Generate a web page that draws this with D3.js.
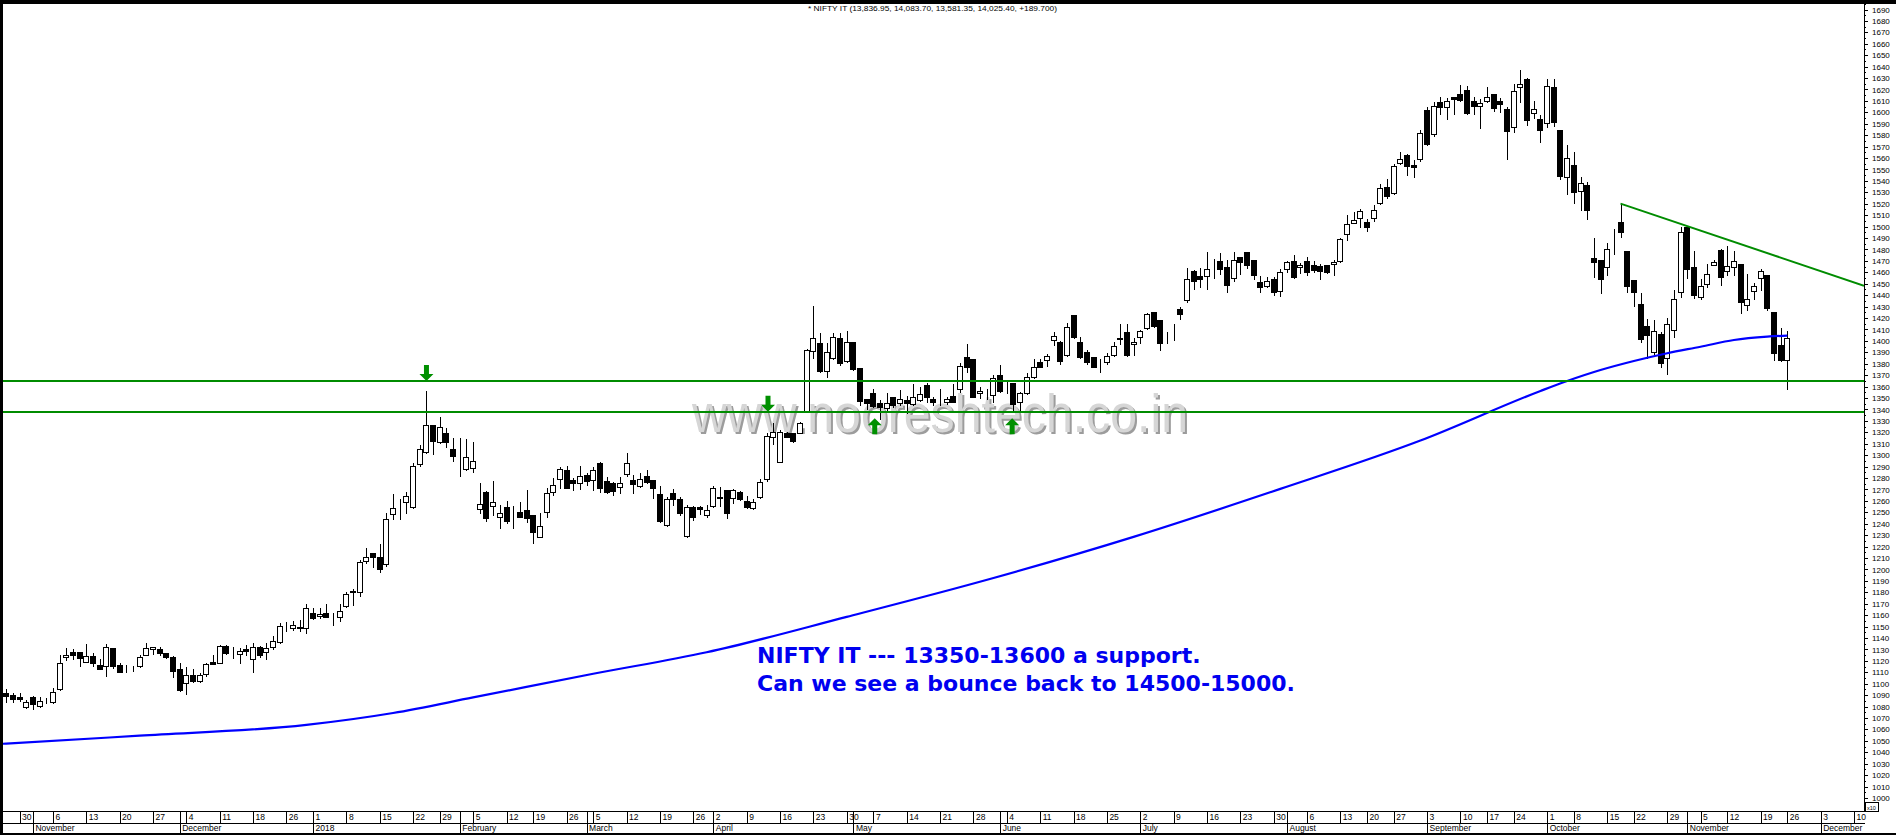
<!DOCTYPE html>
<html><head><meta charset="utf-8">
<script src="https://cdnjs.cloudflare.com/ajax/libs/d3/7.8.5/d3.min.js"></script>
<style>
html,body{margin:0;padding:0;background:#fff;overflow:hidden;}
svg{display:block;}
</style></head><body>
<svg id="chart" width="1896" height="835"></svg>
<script>
// ---------------- data (index units shown on axis, x10) ----------------
const holidays = ["2017-12-25","2018-01-26","2018-02-13","2018-03-02","2018-03-29","2018-03-30","2018-05-01","2018-08-15","2018-08-22","2018-09-13","2018-09-20","2018-10-02","2018-10-18","2018-11-08","2018-11-23"];
const monthNames = ["January","February","March","April","May","June","July","August","September","October","November","December"];

const openV = [1092.2,1090.2,1088.7,1079.9,1088.2,1080.5,1084.9,1083.8,1095.2,1123.2,
1127.5,1127.5,1119.3,1124.3,1116.4,1115.6,1131.3,1116.4,1113.2,1113.2,
1115.6,1124.9,1130.4,1130.4,1126.6,1123.4,1112.7,1100.9,1107.9,1102.7,
1108.3,1118.8,1118.4,1133.1,1126.1,1126.1,1130.2,1121.4,1131.9,1127.5,
1131.9,1136.8,1151.2,1148.8,1148.5,1148.5,1161.7,1159.3,1161.7,1160.2,
1158.2,1168.3,1181.4,1180.6,1207.2,1214.2,1210.7,1204.5,1248.3,1257.9,
1258.8,1254.9,1292.0,1302.5,1326.2,1311.8,1319.2,1305.2,1297.3,1287.7,
1288.5,1252.7,1267.5,1255.8,1245.7,1254.7,1243.3,1250.0,1251.8,1247.7,
1228.2,1250.0,1267.5,1279.2,1287.1,1278.3,1275.4,1282.7,1278.0,1292.9,
1277.4,1275.4,1271.9,1283.3,1278.3,1273.1,1281.8,1278.3,1266.1,1238.9,
1266.7,1261.4,1229.3,1254.4,1254.4,1247.7,1255.5,1263.7,1269.5,1262.3,
1268.1,1260.2,1253.5,1263.2,1278.9,1315.9,1294.3,1319.2,1319.2,1319.7,
1338.1,1391.2,1397.9,1373.9,1384.8,1402.3,1382.7,1398.8,1376.0,1348.9,
1354.2,1345.4,1341.0,1350.7,1345.9,1348.3,1344.8,1348.3,1361.4,1348.9,
1348.3,1346.3,1351.8,1357.7,1386.2,1383.9,1354.2,1355.6,1352.7,1370.2,
1360.5,1363.4,1346.8,1354.2,1368.2,1381.3,1383.3,1400.8,1399.3,1387.7,
1422.7,1398.8,1390.0,1385.7,1379.5,1381.8,1387.7,1402.8,1407.5,1397.3,
1403.2,1411.0,1425.0,1418.3,1402.3,1412.4,1427.9,1435.8,1461.2,1456.8,
1456.8,1462.1,1469.9,1464.4,1454.8,1473.4,1477.5,1470.8,1451.3,1448.3,
1454.2,1443.9,1462.7,1469.9,1464.4,1469.9,1466.4,1465.8,1466.4,1467.0,
1470.2,1493.3,1502.9,1507.3,1503.8,1507.8,1520.4,1534.4,1529.2,1555.4,
1562.7,1553.9,1558.9,1602.1,1580.8,1609.3,1604.9,1613.4,1615.8,1619.6,
1609.9,1605.5,1610.2,1615.8,1609.9,1602.7,1586.9,1621.9,1629.4,1599.2,
1594.2,1590.4,1622.2,1584.5,1543.2,1553.9,1530.9,1536.4,1472.5,1470.8,
1464.4,1489.4,1503.8,1478.7,1453.3,1432.3,1413.1,1390.3,1406.1,1384.8,
1409.3,1443.1,1499.7,1464.7,1438.2,1450.1,1466.2,1479.5,1460.9,1464.4,
1467.0,1431.7,1443.4,1455.1,1457.4,1425.3,1396.4,1383.7];

const highV = [1095.2,1091.7,1091.7,1085.8,1089.3,1088.7,1087.3,1096.0,1125.2,1131.0,
1130.2,1127.5,1134.8,1127.2,1121.4,1134.8,1131.3,1117.9,1116.4,1115.6,
1125.2,1135.4,1132.4,1132.4,1127.2,1124.3,1117.9,1114.4,1112.7,1109.7,
1118.4,1125.2,1133.9,1133.9,1132.4,1131.0,1133.9,1135.4,1133.1,1135.4,
1141.8,1153.4,1154.0,1155.2,1155.8,1169.8,1166.1,1166.1,1169.8,1161.7,
1169.8,1180.0,1182.7,1208.3,1218.5,1214.2,1222.3,1249.2,1266.1,1261.4,
1268.1,1292.9,1308.9,1356.2,1326.2,1333.2,1323.5,1314.8,1314.8,1313.9,
1311.8,1275.4,1268.9,1277.4,1256.4,1259.9,1255.5,1258.8,1269.5,1247.7,
1249.2,1271.0,1279.8,1289.4,1290.6,1280.3,1290.6,1284.7,1289.4,1293.8,
1281.2,1276.8,1280.7,1301.6,1282.7,1284.7,1287.1,1278.3,1273.1,1263.2,
1270.2,1263.7,1256.4,1255.5,1255.5,1256.4,1273.1,1272.4,1269.5,1270.2,
1268.7,1264.3,1261.4,1278.9,1319.7,1328.2,1322.1,1320.6,1319.7,1329.3,
1392.7,1430.5,1407.2,1397.9,1406.7,1407.2,1409.0,1398.8,1376.0,1348.9,
1357.7,1348.3,1354.2,1351.2,1357.1,1351.8,1362.0,1359.4,1363.4,1351.2,
1357.7,1350.7,1362.3,1380.4,1397.3,1383.9,1359.4,1357.7,1370.2,1378.9,
1365.8,1363.4,1355.6,1371.7,1383.9,1383.9,1388.5,1408.1,1400.2,1415.9,
1422.7,1403.7,1392.1,1385.7,1383.9,1389.2,1399.3,1414.8,1414.8,1402.3,
1409.5,1424.2,1425.0,1418.3,1408.1,1414.8,1429.9,1463.5,1462.1,1463.5,
1478.1,1471.4,1476.7,1470.8,1477.5,1473.4,1477.5,1470.8,1456.8,1455.7,
1456.2,1462.7,1469.9,1475.2,1467.9,1473.4,1469.9,1467.0,1466.4,1470.8,
1490.3,1510.2,1512.5,1515.4,1506.7,1518.9,1537.0,1541.7,1554.8,1565.0,
1563.3,1558.3,1584.5,1604.9,1609.3,1613.2,1612.8,1613.4,1623.9,1623.1,
1613.2,1611.4,1621.9,1615.8,1612.3,1604.9,1624.5,1637.1,1630.3,1609.9,
1597.7,1629.2,1629.2,1584.5,1571.4,1565.0,1543.4,1538.8,1490.1,1470.8,
1485.4,1497.9,1520.1,1478.7,1453.3,1441.7,1419.2,1418.3,1408.1,1420.3,
1444.5,1499.7,1500.8,1478.7,1454.2,1467.3,1470.8,1480.4,1482.8,1478.7,
1467.0,1458.5,1450.4,1462.9,1457.4,1425.3,1411.0,1408.4];

const lowV = [1084.3,1084.3,1085.2,1079.1,1077.7,1079.4,1083.5,1082.9,1094.6,1120.8,
1121.4,1115.8,1119.3,1115.6,1112.7,1107.1,1113.5,1110.1,1110.1,1111.2,
1114.4,1124.9,1125.8,1125.2,1122.3,1106.2,1093.9,1091.1,1101.8,1101.8,
1107.1,1117.3,1117.9,1126.1,1122.3,1118.4,1125.2,1110.6,1123.7,1121.4,
1130.2,1135.9,1146.4,1147.1,1146.4,1144.2,1156.4,1157.3,1158.7,1151.4,
1155.2,1166.9,1168.9,1176.8,1205.9,1201.9,1198.1,1203.1,1244.4,1243.9,
1249.7,1253.5,1290.8,1301.7,1301.1,1310.4,1307.4,1295.2,1282.1,1287.0,
1285.6,1249.7,1242.7,1247.7,1236.0,1240.4,1236.0,1245.7,1241.8,1223.4,
1228.2,1246.2,1265.2,1271.0,1271.0,1269.5,1270.2,1273.9,1269.5,1268.1,
1267.2,1265.2,1266.7,1281.8,1267.2,1271.9,1275.4,1262.3,1241.8,1238.1,
1256.4,1247.7,1228.7,1243.3,1248.6,1246.2,1254.4,1255.5,1244.8,1257.9,
1260.8,1253.5,1252.9,1262.3,1277.7,1309.8,1294.3,1316.2,1311.8,1319.7,
1338.1,1384.8,1373.1,1368.2,1383.9,1378.9,1381.8,1374.5,1343.9,1340.2,
1341.9,1331.4,1339.6,1342.4,1343.9,1336.7,1343.9,1347.7,1346.8,1343.9,
1343.9,1344.8,1346.8,1355.6,1373.1,1350.7,1349.8,1348.9,1346.8,1355.6,
1354.2,1338.9,1339.6,1353.6,1367.3,1376.9,1378.1,1396.4,1379.8,1386.8,
1402.3,1384.8,1379.8,1377.4,1373.1,1379.8,1387.1,1397.3,1386.8,1387.7,
1398.4,1410.2,1412.4,1392.1,1397.9,1400.8,1418.9,1434.3,1445.2,1446.9,
1445.2,1454.8,1458.3,1443.1,1452.7,1458.5,1463.5,1454.2,1443.1,1446.9,
1440.2,1439.6,1460.6,1455.3,1459.2,1457.7,1460.0,1454.2,1459.2,1457.7,
1469.3,1488.3,1502.9,1499.9,1496.4,1505.2,1519.8,1524.8,1528.3,1554.5,
1545.2,1543.7,1557.4,1571.4,1579.6,1598.6,1594.2,1598.6,1610.2,1598.6,
1598.6,1586.0,1609.3,1601.4,1600.0,1559.4,1583.1,1609.3,1589.2,1595.3,
1574.3,1587.4,1587.8,1541.7,1528.3,1520.4,1514.8,1506.9,1456.2,1442.2,
1457.7,1475.8,1491.2,1443.1,1430.8,1398.8,1384.8,1388.8,1377.4,1370.8,
1403.7,1438.7,1455.3,1437.3,1436.4,1447.4,1466.2,1448.9,1457.7,1457.7,
1424.7,1427.1,1436.7,1444.3,1427.1,1383.6,1382.7,1358.1];

const closeV = [1089.3,1086.4,1086.4,1083.8,1082.0,1085.2,1084.9,1093.1,1117.9,1124.9,
1124.9,1122.3,1124.0,1117.9,1112.7,1131.9,1115.6,1110.6,1113.2,1113.2,
1123.7,1131.0,1131.9,1127.2,1123.7,1111.4,1094.6,1107.9,1102.7,1107.9,
1117.0,1117.3,1133.1,1127.2,1126.1,1128.4,1129.0,1131.9,1124.9,1131.3,
1137.7,1150.3,1151.2,1151.2,1149.9,1166.6,1157.3,1160.8,1158.7,1160.2,
1163.4,1178.3,1180.0,1206.3,1210.7,1210.7,1200.2,1243.9,1253.5,1257.9,
1264.3,1290.6,1305.7,1326.2,1312.7,1325.0,1311.8,1299.6,1297.3,1298.7,
1294.7,1257.0,1245.3,1259.3,1249.7,1242.7,1243.3,1246.2,1244.8,1233.1,
1238.1,1266.7,1273.7,1287.9,1271.6,1275.4,1281.5,1277.7,1287.1,1271.0,
1268.1,1268.9,1275.4,1292.9,1274.5,1278.9,1276.8,1271.0,1242.7,1261.4,
1261.4,1249.2,1254.9,1246.2,1252.7,1252.1,1271.0,1262.3,1249.7,1269.5,
1261.4,1254.4,1258.8,1276.8,1317.1,1320.3,1320.6,1316.2,1312.7,1327.9,
1392.1,1402.3,1373.9,1390.0,1403.2,1380.4,1399.3,1375.4,1347.7,1345.9,
1343.1,1341.9,1345.9,1343.9,1348.9,1345.4,1351.2,1353.6,1351.2,1346.8,
1348.3,1348.9,1346.8,1378.1,1376.9,1350.7,1356.4,1355.6,1367.3,1356.4,
1360.5,1344.8,1354.2,1368.7,1377.4,1377.4,1386.8,1404.3,1382.7,1412.4,
1403.2,1385.7,1381.8,1377.4,1379.5,1387.1,1395.5,1401.4,1387.7,1399.3,
1408.7,1423.3,1413.1,1397.9,1402.3,1412.4,1423.5,1454.4,1452.7,1453.9,
1462.7,1462.1,1462.9,1448.9,1470.8,1469.3,1466.4,1457.7,1447.4,1452.7,
1443.1,1460.0,1468.8,1456.2,1466.4,1460.6,1462.1,1461.4,1460.6,1468.8,
1489.2,1502.0,1505.8,1513.7,1499.9,1514.5,1533.5,1527.1,1553.1,1558.9,
1553.3,1552.4,1581.7,1572.0,1605.5,1604.9,1609.9,1611.4,1610.8,1599.7,
1605.8,1607.9,1613.2,1604.1,1607.0,1583.9,1618.7,1624.5,1593.6,1602.7,
1584.8,1623.1,1591.8,1544.6,1559.8,1530.6,1538.2,1514.8,1469.3,1454.2,
1480.4,1489.4,1495.5,1448.3,1443.1,1401.9,1405.2,1408.4,1380.4,1414.8,
1436.4,1495.0,1463.2,1440.4,1448.1,1458.3,1468.8,1456.2,1465.8,1470.2,
1434.3,1436.4,1448.1,1460.9,1428.8,1389.2,1383.3,1402.5];

// moving average (bar index, value)
const maIdx = [-1,0,20,45,58,70,88,105,126,148,169,191,212,230,234,239,244,249,254,259,264,267];
const maVal = [1047.3,1047.6,1054.6,1064.0,1074.4,1088.0,1108.7,1127.5,1158.5,1192.5,1228.5,1270.5,1312.8,1356.2,1364.9,1374.5,1382.4,1389.2,1394.9,1400.8,1403.7,1404.6];

const supportLevels = [1364.5, 1337.4];
const trendIdx = [242, 278.5];
const trendVal = [1520.1, 1448.3];
const arrowIdx = [63, 114.2, 130.2, 150.8];
const arrowVal = [1365.0, 1338.0, 1332.3, 1332.3];
const arrowDir = ["down","down","up","up"];
const yTicks = d3.range(1000, 1691, 10);

const titleText = "* NIFTY IT (13,836.95, 14,083.70, 13,581.35, 14,025.40, +189.700)";
const noteLines = ["NIFTY IT --- 13350-13600 a support.", "Can we see a bounce back to 14500-15000."];
const watermark = "www.nooreshtech.co.in";

// ---------------- layout ----------------
const W = 1896, H = 835;
const plotL = 3, plotR = 1864, plotT = 4, plotB = 811;
const x = d3.scaleLinear().domain([0, 267]).range([6.2, 1787.3]);
const y = d3.scaleLinear().domain([1000, 1690]).range([798, 9.5]);
const FONT = "'Liberation Sans', Arial, sans-serif";

// trading calendar
const days = [];
for (let t = Date.UTC(2017, 9, 26); t <= Date.UTC(2018, 11, 14); t += 86400000) {
  const d = new Date(t), w = d.getUTCDay(), s = d.toISOString().slice(0, 10);
  if (w > 0 && w < 6 && !holidays.includes(s)) days.push(d);
}
const weekIdx = [], monthIdx = [];
days.forEach((d, i) => {
  if (i === 0 || x(i) > plotR - 1) return;
  if (d.getUTCDay() <= days[i - 1].getUTCDay()) weekIdx.push(i);
  if (d.getUTCMonth() !== days[i - 1].getUTCMonth()) monthIdx.push(i);
});

const svg = d3.select("#chart");
svg.append("rect").attr("width", W).attr("height", H).attr("fill", "#fff");

svg.append("defs").append("clipPath").attr("id", "clip")
  .append("rect").attr("x", plotL).attr("y", plotT).attr("width", plotR - plotL).attr("height", plotB - plotT);

const plot = svg.append("g").attr("clip-path", "url(#clip)");

// watermark
const wm = plot.append("g");
wm.append("text").attr("x", 694).attr("y", 434).text(watermark)
  .attr("font-family", FONT).attr("font-size", 53).attr("fill", "#9c9c9c")
  .attr("textLength", 496).attr("lengthAdjust", "spacingAndGlyphs");
wm.append("text").attr("x", 692).attr("y", 432).text(watermark)
  .attr("font-family", FONT).attr("font-size", 53).attr("fill", "#d6d6d6")
  .attr("textLength", 496).attr("lengthAdjust", "spacingAndGlyphs");

// candles
const bars = d3.range(openV.length).map(i => ({ i, o: openV[i], h: highV[i], l: lowV[i], c: closeV[i] }));
const cx = i => Math.round(x(i));
const yr = v => Math.round(y(v));
const cg = plot.append("g").attr("shape-rendering", "crispEdges");
cg.selectAll("line.wick").data(bars).join("line").attr("class", "wick")
  .attr("x1", d => cx(d.i) + 0.5).attr("x2", d => cx(d.i) + 0.5)
  .attr("y1", d => yr(d.h)).attr("y2", d => yr(d.l) + 1)
  .attr("stroke", "#000").attr("stroke-width", 1);
cg.selectAll("rect.body").data(bars).join("rect").attr("class", "body")
  .attr("x", d => cx(d.i) - 2.5).attr("width", 5)
  .attr("y", d => yr(Math.max(d.o, d.c)) + 0.5)
  .attr("height", d => Math.max(0, yr(Math.min(d.o, d.c)) - yr(Math.max(d.o, d.c))))
  .attr("fill", d => d.c >= d.o ? "#fff" : "#000")
  .attr("stroke", "#000").attr("stroke-width", 1);

// moving average
const ma = maIdx.map((k, j) => [k, maVal[j]]);
plot.append("path").datum(ma)
  .attr("d", d3.line().x(d => x(d[0])).y(d => y(d[1])).curve(d3.curveMonotoneX))
  .attr("fill", "none").attr("stroke", "#0000ff").attr("stroke-width", 2.2);

// support lines
plot.selectAll("line.sup").data(supportLevels).join("line").attr("class", "sup")
  .attr("x1", plotL).attr("x2", plotR)
  .attr("y1", d => Math.round(y(d))).attr("y2", d => Math.round(y(d)))
  .attr("stroke", "#008c00").attr("stroke-width", 2).attr("shape-rendering", "crispEdges");

// trend line
plot.append("line")
  .attr("x1", x(trendIdx[0])).attr("y1", y(trendVal[0]))
  .attr("x2", x(trendIdx[1])).attr("y2", y(trendVal[1]))
  .attr("stroke", "#008c00").attr("stroke-width", 2);

// arrows
arrowIdx.forEach((k, j) => {
  const ax = x(k), ay = y(arrowVal[j]);
  const s = arrowDir[j] === "down" ? -1 : 1; // tip at ay; body extends away
  const pts = [[ax, ay], [ax - 7, ay + s * 7], [ax - 2.5, ay + s * 7], [ax - 2.5, ay + s * 16],
               [ax + 2.5, ay + s * 16], [ax + 2.5, ay + s * 7], [ax + 7, ay + s * 7]];
  plot.append("polygon").attr("points", pts.map(p => p.join(",")).join(" "))
    .attr("fill", "#009000");
});

// annotation
const note = svg.append("g");
noteLines.forEach((t, j) => {
  note.append("text").attr("x", 757).attr("y", 663 + j * 28).text(t)
    .attr("font-family", "'DejaVu Sans', Verdana, sans-serif").attr("font-weight", "bold")
    .attr("font-size", 22).attr("fill", "#0000f0");
});

// right axis
svg.append("line").attr("x1", plotR + 0.5).attr("x2", plotR + 0.5).attr("y1", plotT).attr("y2", plotB)
  .attr("stroke", "#000").attr("shape-rendering", "crispEdges");
const gY = svg.append("g").attr("transform", `translate(${plotR},0)`)
  .call(d3.axisRight(y).tickValues(yTicks).tickSize(4).tickPadding(4).tickFormat(d3.format("d")));
gY.select(".domain").remove();
gY.attr("font-family", FONT).attr("font-size", 8).attr("shape-rendering", "crispEdges");
const gYm = svg.append("g").attr("transform", `translate(${plotR},0)`)
  .call(d3.axisRight(y).tickValues(yTicks.map(v => v + 5)).tickSize(2).tickFormat(""));
gYm.select(".domain").remove();
gYm.attr("shape-rendering", "crispEdges");
svg.append("rect").attr("x", plotR + 1.5).attr("y", 802.5).attr("width", 13).attr("height", 9)
  .attr("fill", "#fff").attr("stroke", "#000").attr("shape-rendering", "crispEdges");
svg.append("text").attr("x", plotR + 3).attr("y", 809.5).text("x10")
  .attr("font-family", FONT).attr("font-size", 5.5);

// bottom date rows
svg.append("g").attr("shape-rendering", "crispEdges").selectAll("line").data([811.5, 823.5]).join("line")
  .attr("x1", plotL).attr("x2", plotR + 1).attr("y1", d => d).attr("y2", d => d).attr("stroke", "#000");
const gW = svg.append("g").attr("transform", `translate(0,${plotB})`)
  .call(d3.axisBottom(x).tickValues(weekIdx).tickSize(12).tickFormat(i => days[i].getUTCDate()));
gW.select(".domain").remove();
gW.attr("font-family", FONT).attr("font-size", 8.5).attr("shape-rendering", "crispEdges");
gW.selectAll(".tick text").attr("text-anchor", "start").attr("x", 2).attr("y", 9.3).attr("dy", null);
const gM = svg.append("g").attr("transform", `translate(0,${plotB})`)
  .call(d3.axisBottom(x).tickValues(monthIdx).tickSize(22)
    .tickFormat(i => { const m = days[i].getUTCMonth(); return m === 0 ? String(days[i].getUTCFullYear()) : monthNames[m]; }));
gM.select(".domain").remove();
gM.attr("font-family", FONT).attr("font-size", 8.5).attr("shape-rendering", "crispEdges");
gM.selectAll(".tick text").attr("text-anchor", "start").attr("x", 2).attr("y", 20.3).attr("dy", null);

// title
svg.append("text").attr("x", 808).attr("y", 11).text(titleText)
  .attr("font-family", FONT).attr("font-size", 8).attr("fill", "#000")
  .attr("textLength", 249).attr("lengthAdjust", "spacingAndGlyphs");

// frame
svg.append("rect").attr("x", 0).attr("y", 0).attr("width", W).attr("height", 4).attr("fill", "#000");
svg.append("rect").attr("x", 0).attr("y", 0).attr("width", 3).attr("height", H).attr("fill", "#000");
svg.append("rect").attr("x", 0).attr("y", 833).attr("width", W).attr("height", 2).attr("fill", "#000");
</script>
</body></html>
